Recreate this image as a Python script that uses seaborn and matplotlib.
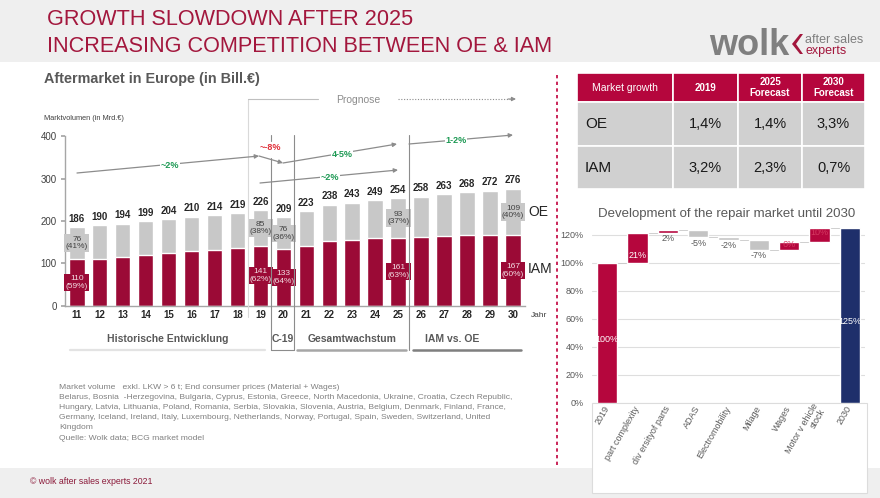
import matplotlib
matplotlib.use("Agg")
import matplotlib.pyplot as plt
from matplotlib.patches import Rectangle, Polygon
import pandas as pd
import seaborn as sns

# ---------------- data ----------------
years = ["11", "12", "13", "14", "15", "16", "17", "18", "19", "20",
         "21", "22", "23", "24", "25", "26", "27", "28", "29", "30"]
total = [186, 190, 194, 199, 204, 210, 214, 219, 226, 209,
         223, 238, 243, 249, 254, 258, 263, 268, 272, 276]
iam = [110, 111, 115, 119, 125, 129, 132, 136, 141, 133,
       142, 152, 155, 159, 161, 163, 164, 166, 167, 167]
oe = [76, 79, 79, 80, 79, 81, 82, 83, 85, 76,
      81, 86, 88, 90, 93, 95, 99, 102, 105, 109]
boxed_years = ["11", "19", "20", "25", "30"]
oe_share = [41, 38, 36, 37, 40]
iam_share = [59, 62, 64, 63, 60]

periods = ["Historische Entwicklung", "C-19", "Gesamtwachstum", "IAM vs. OE"]
growth_labels = ["~2%", "~-8%", "4-5%", "1-2%", "~2%"]

table_cols = ["Market growth", "2019", "2025\nForecast", "2030\nForecast"]
table_rows = ["OE", "IAM"]
table_oe = ["1,4%", "1,4%", "3,3%"]
table_iam = ["3,2%", "2,3%", "0,7%"]

wf_steps = ["2019", "part complexity", "div ersityof parts", "ADAS",
            "Electromobility", "Milage", "Wages", "Motor v ehicle\nstock", "2030"]
wf_delta = [100, 21, 2, -5, -2, -7, 6, 10, 125]

footnote = [
    "Market volume   exkl. LKW > 6 t; End consumer prices (Material + Wages)",
    "Belarus, Bosnia  -Herzegovina, Bulgaria, Cyprus, Estonia, Greece, North Macedonia, Ukraine, Croatia, Czech Republic,",
    "Hungary, Latvia, Lithuania, Poland, Romania, Serbia, Slovakia, Slovenia, Austria, Belgium, Denmark, Finland, France,",
    "Germany, Iceland, Ireland, Italy, Luxembourg, Netherlands, Norway, Portugal, Spain, Sweden, Switzerland, United",
    "Kingdom",
    "Quelle: Wolk data; BCG market model",
]

# ---------------- style ----------------
sns.set_theme(style="white")
plt.rcParams["font.family"] = ["Liberation Sans", "DejaVu Sans"]

RED = "#9b0a36"
RED2 = "#b5063d"
GRAY = "#c8c8c8"
NAVY = "#1e2f6b"
TXT = "#595959"
ARROW = "#8c8c8c"
GREEN = "#1f9a55"
TITLE_RED = "#a3173d"

W, H = 880, 498
fig = plt.figure(figsize=(W / 100, H / 100), dpi=100)


def box(l, t, r, b):
    return [l / W, 1 - b / H, (r - l) / W, (b - t) / H]


# background layer (bands) and foreground layer (annotations) in pixel units
bg = fig.add_axes([0, 0, 1, 1], zorder=-1)
fg = fig.add_axes([0, 0, 1, 1], zorder=5)
for a in (bg, fg):
    a.set_xlim(0, W)
    a.set_ylim(H, 0)
    a.axis("off")
    a.patch.set_visible(False)

bg.add_patch(Rectangle((0, 0), W, 62, fc="#efefef", ec="none"))
bg.add_patch(Rectangle((0, 468), W, 30, fc="#efefef", ec="none"))
bg.add_patch(Rectangle((592, 403), 275, 90, fc="white", ec="#dcdcdc", lw=0.8))

# header
fg.text(47, 19, "GROWTH SLOWDOWN AFTER 2025", fontsize=15.6, color=TITLE_RED,
        va="center", ha="left")
fg.text(47, 46, "INCREASING COMPETITION BETWEEN OE & IAM", fontsize=15.6,
        color=TITLE_RED, va="center", ha="left")
fg.text(709, 55, "wolk", fontsize=26, fontweight="bold", color="#7f7f7f",
        va="baseline", ha="left")
fg.add_patch(Polygon([(800, 34), (792, 44), (800, 54), (803, 54), (796, 44), (803, 34)],
                     closed=True, fc=TITLE_RED, ec="none"))
fg.text(805, 40, "after sales", fontsize=9, color="#7f7f7f", va="center", ha="left")
fg.text(805, 51, "experts", fontsize=9, color=TITLE_RED, va="center", ha="left")

# footer
fg.text(30, 481, "© wolk after sales experts 2021", fontsize=6.3, color="#8b1a3a",
        va="center", ha="left")
for k, line in enumerate(footnote):
    fg.text(59, 387 + k * 10.2, line, fontsize=6.1, color="#808080", va="center", ha="left")

# ---------------- left chart: stacked bars ----------------
fg.text(44, 79, "Aftermarket in Europe (in Bill.€)", fontsize=10.4, fontweight="bold",
        color=TXT, va="center", ha="left")
fg.text(44, 118, "Marktvolumen (in Mrd.€)", fontsize=5.3, color="#404040", va="center")

ax = fig.add_axes(box(65, 136.4, 525, 305.7))
df = pd.DataFrame({"year": years, "total": total, "iam": iam, "oe": oe})
sns.barplot(data=df, x="year", y="total", color=GRAY, width=0.68, saturation=1,
            errorbar=None, ax=ax)
sns.barplot(data=df, x="year", y="iam", color=RED, width=0.68, saturation=1,
            errorbar=None, ax=ax)
ax.set_xlim(-0.51, 19.52)
ax.set_ylim(0, 400)
ax.patch.set_visible(False)
ax.set_xlabel("")
ax.set_ylabel("")
for s in ("top", "right"):
    ax.spines[s].set_visible(False)
for s in ("left", "bottom"):
    ax.spines[s].set_color("#a6a6a6")
    ax.spines[s].set_linewidth(1)
ax.set_yticks([0, 100, 200, 300, 400])
ax.tick_params(axis="y", labelsize=7, labelcolor="#404040", length=3,
               color="#a6a6a6", pad=3, left=True)
ax.tick_params(axis="x", labelsize=7, labelcolor="#262626", length=0, pad=3)
for lab in ax.get_xticklabels():
    lab.set_fontweight("bold")

for i, t in enumerate(total):
    ax.annotate(str(t), (i, t), xytext=(0, 2.5), textcoords="offset points",
                ha="center", va="bottom", fontsize=7, fontweight="bold", color="#262626")

for y, so, si in zip(boxed_years, oe_share, iam_share):
    i = years.index(y)
    ax.text(i, iam[i] + oe[i] / 2, f"{oe[i]}\n({so}%)", ha="center", va="center",
            fontsize=6, color="#404040", linespacing=1.15,
            bbox=dict(boxstyle="square,pad=0.15", fc=GRAY, ec="none"))
    ax.text(i, iam[i] / 2, f"{iam[i]}\n({si}%)", ha="center", va="center",
            fontsize=6, color="#f3dde3", linespacing=1.15,
            bbox=dict(boxstyle="square,pad=0.15", fc=RED, ec="none"))

fg.text(528, 212, "OE", fontsize=10, color="#262626", va="center", ha="left")
fg.text(528, 269, "IAM", fontsize=10, color="#262626", va="center", ha="left")
fg.text(531, 315, "Jahr", fontsize=6, color="#404040", va="center", ha="left")

# period separators and labels
fg.plot([248, 248], [99, 317], color="#d9d9d9", lw=0.8)
fg.plot([248, 318], [99, 99], color="#bfbfbf", lw=0.8)
fg.text(358, 100, "Prognose", fontsize=7.5, color=ARROW, va="center", ha="center")
fg.plot([398, 510], [99, 99], color=ARROW, lw=0.8, ls=(0, (1, 1.5)))
fg.annotate("", xy=(516, 99), xytext=(508, 99),
            arrowprops=dict(arrowstyle="-|>", color=ARROW, lw=0.8, mutation_scale=6,
                            shrinkA=0, shrinkB=0))
fg.plot([271, 271], [135, 141], color=ARROW, lw=0.8)
fg.plot([271, 271], [158, 350], color=ARROW, lw=0.8)
fg.plot([294, 294], [135, 350], color=ARROW, lw=0.8)
fg.plot([271, 294], [350, 350], color=ARROW, lw=0.8)
fg.plot([409, 409], [135, 350], color=ARROW, lw=0.8)
fg.plot([70, 265], [350, 350], color="#e3e3e3", lw=1.6)
fg.plot([297, 406], [350, 350], color="#a6a6a6", lw=1.8)
fg.plot([413, 521], [350, 350], color="#7f7f7f", lw=1.8)
for name, xc in zip(periods, [168, 283, 352, 452]):
    fg.text(xc, 339, name, fontsize=7.5, fontweight="bold", color=TXT,
            va="center", ha="center")

# growth arrows
segments = [((77, 173), (259, 156)), ((259, 156), (283, 163)), ((283, 163), (397, 144)),
            ((409, 144), (513, 135)), ((260, 183), (398, 170))]
label_pos = [(170, 165), (270, 147), (342, 154), (456, 140), (330, 177)]
label_col = [GREEN, "#e0303a", GREEN, GREEN, GREEN]
for (p0, p1), txt, pos, col in zip(segments, growth_labels, label_pos, label_col):
    fg.annotate("", xy=p1, xytext=p0,
                arrowprops=dict(arrowstyle="-|>", color=ARROW, lw=0.9, mutation_scale=6,
                                shrinkA=0, shrinkB=0))
    fg.text(pos[0], pos[1], txt, fontsize=6.5, fontweight="bold", color=col,
            va="center", ha="center",
            bbox=dict(boxstyle="square,pad=0.05", fc="white", ec="none"))

# divider
fg.plot([557, 557], [75, 465], color="#c0003c", lw=1.2, ls=(0, (2, 2)))

# ---------------- table ----------------
col_x = [577, 673, 738, 802, 865]
row_y = [73, 102, 146, 189]
for c in range(4):
    fg.add_patch(Rectangle((col_x[c], row_y[0]), col_x[c + 1] - col_x[c],
                           row_y[1] - row_y[0], fc=RED2, ec="white", lw=1.2))
    xc = (col_x[c] + col_x[c + 1]) / 2
    fg.text(xc, (row_y[0] + row_y[1]) / 2, table_cols[c], color="white",
            fontsize=7.5 if c == 0 else 7, fontweight="normal" if c == 0 else "bold",
            ha="center", va="center", linespacing=1.1)
for r, (name, vals) in enumerate(zip(table_rows, [table_oe, table_iam])):
    y0, y1 = row_y[r + 1], row_y[r + 2]
    for c in range(4):
        fg.add_patch(Rectangle((col_x[c], y0), col_x[c + 1] - col_x[c], y1 - y0,
                               fc="#d0d0d0", ec="white", lw=1.2))
    fg.text(585, (y0 + y1) / 2, name, fontsize=11, color="#1a1a1a", ha="left", va="center")
    for c, v in enumerate(vals):
        fg.text((col_x[c + 1] + col_x[c + 2]) / 2, (y0 + y1) / 2, v, fontsize=10.5,
                color="#1a1a1a", ha="center", va="center")

# ---------------- waterfall ----------------
fg.text(727, 214, "Development of the repair market until 2030", fontsize=9.5,
        color=TXT, ha="center", va="center")
wf = fig.add_axes(box(592, 227.7, 865, 402.7))
bottoms, heights, colors, tops = [], [], [], []
running = 0
last = len(wf_delta) - 1
for i, d in enumerate(wf_delta):
    if i == 0 or i == last:
        bottoms.append(0)
        heights.append(d)
        colors.append(RED2 if i == 0 else NAVY)
        running = d
    else:
        bottoms.append(running if d >= 0 else running + d)
        heights.append(abs(d))
        colors.append(RED2 if d >= 0 else "#c4c4c4")
        running += d
    tops.append(running)
wf.bar(range(len(wf_delta)), heights, bottom=bottoms, width=0.66, color=colors, zorder=2)
for i in range(last):
    wf.hlines(tops[i], i + 0.33, i + 0.67, color="#c8c8c8", lw=0.6, zorder=1)
wf.set_xlim(-0.5, 8.5)
wf.set_ylim(0, 125)
wf.set_yticks(range(0, 121, 20))
wf.set_yticklabels([f"{v}%" for v in range(0, 121, 20)])
wf.yaxis.grid(True, color="#dedede", lw=0.8)
wf.set_axisbelow(True)
wf.patch.set_visible(False)
for s in wf.spines.values():
    s.set_visible(False)
wf.tick_params(axis="y", labelsize=6.5, labelcolor=TXT, length=0, pad=6)
wf.set_xticks(range(len(wf_steps)))
wf.set_xticklabels(wf_steps, rotation=60, ha="right", va="center",
                   rotation_mode="anchor", fontsize=6.5, color=TXT, linespacing=1.0)
wf.tick_params(axis="x", length=0, pad=3)

for i, d in enumerate(wf_delta):
    b, h = bottoms[i], heights[i]
    if i == 0 or i == last:
        wf.text(i, h / 2 - 4.5, f"{d}%", color="white", fontsize=6.5,
                ha="center", va="center", zorder=3)
    elif h >= 15:
        wf.text(i, b + 5.5, f"{d}%", color="white", fontsize=6.5,
                ha="center", va="center", zorder=3)
    elif d > 0 and i >= 6:
        wf.text(i, b + h - 0.5 if i == 7 else b + 0.5, f"{d}%", color="#d43a62",
                fontsize=6.5, ha="center", va="top" if i == 7 else "bottom", zorder=3)
    else:
        wf.text(i, b - 0.8, f"{d}%", color=TXT, fontsize=6.5,
                ha="center", va="top", zorder=3)

fig.savefig("out.png", dpi=100)
